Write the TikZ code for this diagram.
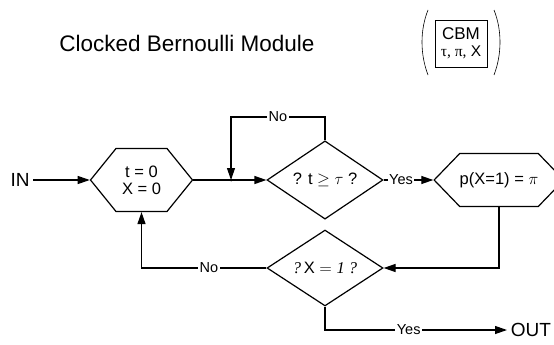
\RequirePackage{fix-cm}
\documentclass[tikz,border=0pt]{standalone}
\usepackage{fontspec}
\setmainfont{Liberation Sans}
\newfontfamily\serifit{Liberation Serif}
\usepackage{tikz}
\usetikzlibrary{shapes.geometric, shapes.symbols, arrows.meta, positioning, calc}

\begin{document}
\begin{tikzpicture}[x=1pt, y=-1pt, line width=1.2pt,
    hexbox/.style={signal, signal to=west and east, draw, inner sep=0pt,
                   align=center, font=\fontsize{16.5}{17}\selectfont},
    decision/.style={diamond, draw, inner sep=0pt, minimum width=116pt,
                     minimum height=68pt, font=\fontsize{16.5}{18}\selectfont},
    flow/.style={-{Triangle[length=12pt,width=8pt]}},
    edgelabel/.style={fill=white, inner sep=1.5pt, font=\fontsize{14.5}{16}\selectfont}]
    \useasboundingbox (0,0) rectangle (554,345);

    % Heading and module symbol
    \node[font=\fontsize{22.5}{26}\selectfont] (title) at (187,43) {Clocked Bernoulli Module};
    \node[draw, line width=0.7pt, minimum width=52pt, minimum height=47pt,
          align=center, font=\fontsize{17}{17}\selectfont] (cbm) at (461,43.5)
        {CBM\\{\fontsize{15.5}{16}\selectfont{\serifit τ, π,} X}};
    \draw[line width=0.6pt] (428,10) .. controls (420,30) and (420,54) .. (428,75);
    \draw[line width=0.6pt] (494,10) .. controls (502,30) and (502,54) .. (494,75);

    % Flow chart nodes
    \node[font=\fontsize{19}{21}\selectfont] (in) at (20,180) {IN};
    \node[hexbox, minimum width=102pt, minimum height=63pt, signal pointer angle=102]
        (init) at (141.5,180) {t = 0\\X = 0};
    \node[decision] (clock) at (325,180) {? t $\geq \tau$ ?};
    \node[hexbox, minimum width=108pt, minimum height=53pt, signal pointer angle=92]
        (bern) at (499,180) {p(X=1) = $\pi$};
    \node[decision, minimum height=69pt] (test) at (325,268)
        {{\serifit\itshape ?}\,X $=$ {\serifit\itshape 1 ?}};
    \node[font=\fontsize{19}{21}\selectfont, anchor=west] (out) at (507,330) {OUT};
    \coordinate (join) at (231,180);
    \coordinate (loop) at (231,117);

    % Connectors
    \draw[flow] (in) -- (init.west);
    \draw (init.east) -- (join);
    \draw[flow] (join) -- (clock.west);
    \fill (join) circle (1.5pt);
    \draw[flow] (clock.north) -- (clock.north |- loop)
        -- node[edgelabel] {No} (loop) -- (join);
    \draw[flow] (clock.east) -- node[edgelabel, pos=0.35] {Yes} (bern.west);
    \draw[flow] (bern.south) |- (test.east);
    \draw[flow] (test.west) -- node[edgelabel, pos=0.46] {No} (test.west -| init.south)
        -- (init.south);
    \draw[flow] (test.south) |- node[edgelabel, pos=0.73] {Yes} (out.west);
\end{tikzpicture}
\end{document}
